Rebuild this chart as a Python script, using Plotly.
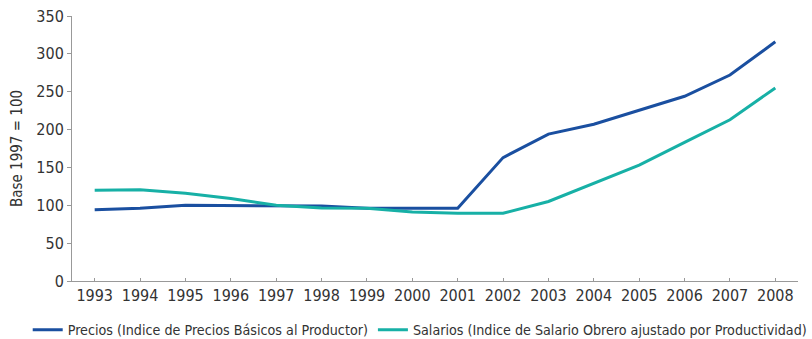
import plotly.graph_objects as go

years = list(range(1993, 2009))
precios = [94, 96, 100, 100, 100, 99, 96, 96, 96, 163, 194, 207, 225, 244, 272, 316]
salarios = [120, 120.5, 116, 109, 100, 96.5, 96, 91, 89.5, 89.5, 105, 129, 153, 183, 213, 255]
y_ticks = [0, 50, 100, 150, 200, 250, 300, 350]

FONT = "DejaVu Sans Condensed, Liberation Sans Narrow, Liberation Sans, sans-serif"

fig = go.Figure()
fig.add_trace(go.Scatter(
    x=years, y=precios, mode="lines",
    name="Precios (Indice de Precios Básicos al Productor)",
    line=dict(color="#1a4fa0", width=3),
))
fig.add_trace(go.Scatter(
    x=years, y=salarios, mode="lines",
    name="Salarios (Indice de Salario Obrero ajustado por Productividad)",
    line=dict(color="#17b0a6", width=3),
))

fig.update_layout(
    width=812, height=339,
    margin=dict(l=72, r=14, t=16, b=58, autoexpand=False),
    paper_bgcolor="white", plot_bgcolor="white",
    font=dict(family=FONT, size=16, color="#333333"),
    showlegend=True,
    # anchored left of the plot area so the single legend row may span the page width
    legend=dict(orientation="h", x=-0.061, xanchor="left", y=-0.125, yanchor="top",
                font=dict(size=14.2), itemwidth=30, tracegroupgap=0,
                bgcolor="rgba(0,0,0,0)"),
)
fig.update_xaxes(
    range=[1992.5, 2008.5], tickvals=years, ticktext=[str(y) for y in years],
    showline=True, linecolor="#999999", linewidth=1,
    ticks="inside", ticklen=3, tickcolor="#999999",
    showgrid=False, zeroline=False,
)
fig.update_yaxes(
    range=[0, 350], tickvals=y_ticks,
    showline=True, linecolor="#999999", linewidth=1,
    ticks="outside", ticklen=4, tickcolor="#999999",
    showgrid=False, zeroline=False,
    title=dict(text="Base 1997 = 100", font=dict(size=15), standoff=10),
)

fig.write_html("out.html")
